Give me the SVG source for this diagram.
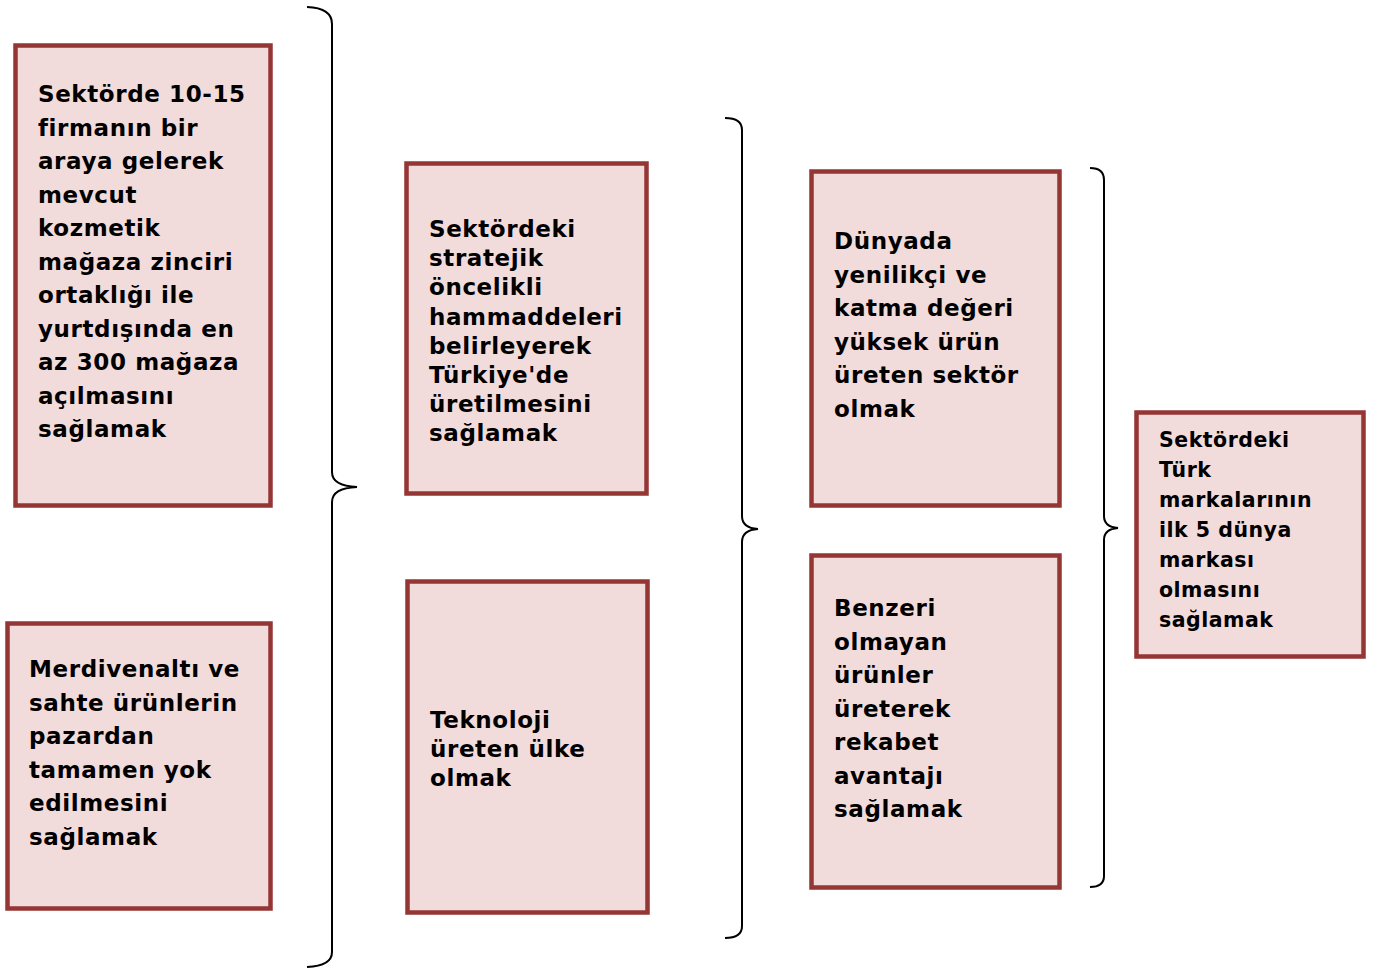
<svg xmlns="http://www.w3.org/2000/svg" width="1381" height="968" viewBox="0 0 1381 968">
<style>
.box{fill:#F2DBDB;stroke:#943634;stroke-width:4.5}
.t{font-family:"DejaVu Sans",Verdana,sans-serif;font-weight:bold;fill:#000;font-size:23px;letter-spacing:0.6px}
.s{font-size:20.5px;letter-spacing:0.5px}
.br{fill:none;stroke:#000;stroke-width:2}
</style>
<rect width="1381" height="968" fill="#fff"/>
<g id="connectors">
<path class="br" d="M307,7 Q332,8 332,24 L332,472 Q332,486 357,487 Q332,488 332,502 L332,952 Q332,966 307,967"/>
<path class="br" d="M725,118 Q742,118 742,130 L742,516 Q742,528 758,529 Q742,530 742,542 L742,926 Q742,938 725,938"/>
<path class="br" d="M1090,168 Q1104,168 1104,180 L1104,516 Q1104,527 1118,528 Q1104,529 1104,540 L1104,876 Q1104,887 1090,887"/>
</g>
<g id="n1">
<rect class="box" x="15.5" y="45.5" width="255" height="460"/>
<text class="t">
<tspan x="38" y="102">Sektörde 10-15</tspan>
<tspan x="38" y="135.5">firmanın bir</tspan>
<tspan x="38" y="169">araya gelerek</tspan>
<tspan x="38" y="202.5">mevcut</tspan>
<tspan x="38" y="236">kozmetik</tspan>
<tspan x="38" y="269.5">mağaza zinciri</tspan>
<tspan x="38" y="303">ortaklığı ile</tspan>
<tspan x="38" y="336.5">yurtdışında en</tspan>
<tspan x="38" y="370">az 300 mağaza</tspan>
<tspan x="38" y="403.5">açılmasını</tspan>
<tspan x="38" y="437">sağlamak</tspan>
</text>
</g>
<g id="n2">
<rect class="box" x="7.5" y="623.5" width="263" height="285"/>
<text class="t">
<tspan x="29" y="677">Merdivenaltı ve</tspan>
<tspan x="29" y="710.5">sahte ürünlerin</tspan>
<tspan x="29" y="744">pazardan</tspan>
<tspan x="29" y="777.5">tamamen yok</tspan>
<tspan x="29" y="811">edilmesini</tspan>
<tspan x="29" y="844.5">sağlamak</tspan>
</text>
</g>
<g id="n3">
<rect class="box" x="406.5" y="163.5" width="240" height="330"/>
<text class="t">
<tspan x="429" y="237">Sektördeki</tspan>
<tspan x="429" y="266.2">stratejik</tspan>
<tspan x="429" y="295.4">öncelikli</tspan>
<tspan x="429" y="324.6">hammaddeleri</tspan>
<tspan x="429" y="353.8">belirleyerek</tspan>
<tspan x="429" y="383">Türkiye'de</tspan>
<tspan x="429" y="412.2">üretilmesini</tspan>
<tspan x="429" y="441.4">sağlamak</tspan>
</text>
</g>
<g id="n4">
<rect class="box" x="407.5" y="581.5" width="240" height="331"/>
<text class="t">
<tspan x="430" y="728">Teknoloji</tspan>
<tspan x="430" y="757">üreten ülke</tspan>
<tspan x="430" y="786">olmak</tspan>
</text>
</g>
<g id="n5">
<rect class="box" x="811.5" y="171.5" width="248" height="334"/>
<text class="t">
<tspan x="834" y="249">Dünyada</tspan>
<tspan x="834" y="282.5">yenilikçi ve</tspan>
<tspan x="834" y="316">katma değeri</tspan>
<tspan x="834" y="349.5">yüksek ürün</tspan>
<tspan x="834" y="383">üreten sektör</tspan>
<tspan x="834" y="416.5">olmak</tspan>
</text>
</g>
<g id="n6">
<rect class="box" x="811.5" y="555.5" width="248" height="332"/>
<text class="t">
<tspan x="834" y="616">Benzeri</tspan>
<tspan x="834" y="649.5">olmayan</tspan>
<tspan x="834" y="683">ürünler</tspan>
<tspan x="834" y="716.5">üreterek</tspan>
<tspan x="834" y="750">rekabet</tspan>
<tspan x="834" y="783.5">avantajı</tspan>
<tspan x="834" y="817">sağlamak</tspan>
</text>
</g>
<g id="n7">
<rect class="box" x="1136.5" y="412.5" width="227" height="244"/>
<text class="t s">
<tspan x="1159" y="447">Sektördeki</tspan>
<tspan x="1159" y="477">Türk</tspan>
<tspan x="1159" y="507">markalarının</tspan>
<tspan x="1159" y="537">ilk 5 dünya</tspan>
<tspan x="1159" y="567">markası</tspan>
<tspan x="1159" y="597">olmasını</tspan>
<tspan x="1159" y="627">sağlamak</tspan>
</text>
</g>
</svg>
